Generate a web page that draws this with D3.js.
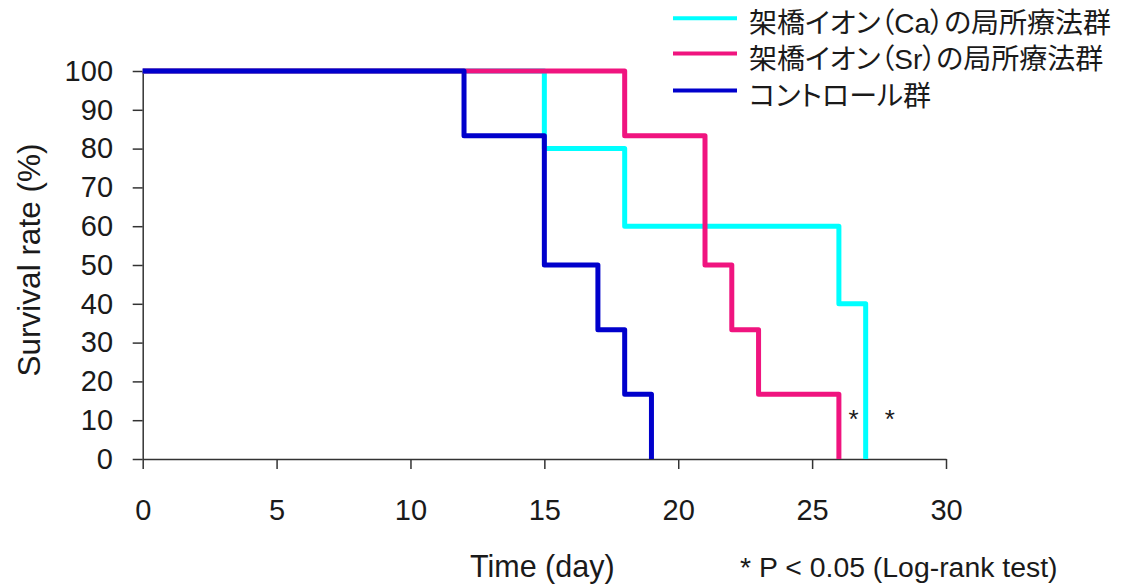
<!DOCTYPE html>
<html>
<head>
<meta charset="utf-8">
<script src="https://cdn.jsdelivr.net/npm/d3@7"></script>
<style>
  html, body { margin: 0; padding: 0; background: #fff; }
  svg { display: block; }
  text { font-family: "Liberation Sans", Arial, "Noto Sans CJK JP", sans-serif; fill: #1a1a1a; }
  .legend-label { font-family: "Liberation Sans", "Noto Sans CJK JP", sans-serif; font-feature-settings: "palt"; }
</style>
</head>
<body>
<svg id="chart" width="1126" height="588"></svg>
<script>
// Kaplan–Meier survival steps: [day, survival %]
const caSteps = [[0, 100], [15, 80], [18, 60], [26, 40], [27, 0]];
const srSteps = [[0, 100], [18, 83.3], [21, 50], [22, 33.3], [23, 16.7], [26, 0]];
const controlSteps = [[0, 100], [12, 83.3], [15, 50], [17, 33.3], [18, 16.7], [19, 0]];

const seriesNames = ["架橋イオン（Ca）の局所療法群", "架橋イオン（Sr）の局所療法群", "コントロール群"];
const seriesColors = ["#00ffff", "#f0147f", "#0000cc"];

const xTicks = [0, 5, 10, 15, 20, 25, 30];
const yTicks = [0, 10, 20, 30, 40, 50, 60, 70, 80, 90, 100];

// significance markers placed beside the two treatment curves
const sigMarks = [[26.55, 8], [27.9, 8]];

const svg = d3.select("#chart");

const x = d3.scaleLinear().domain([0, 30]).range([142.7, 946]);
const y = d3.scaleLinear().domain([0, 100]).range([459, 71]);

// axes
const yAxis = d3.axisLeft(y).tickValues(yTicks).tickSize(10).tickSizeOuter(0).tickPadding(19.7);
const xAxis = d3.axisBottom(x).tickValues(xTicks).tickSize(10).tickSizeOuter(0).tickPadding(30.4);

const gy = svg.append("g").attr("transform", `translate(${x(0)},0)`).call(yAxis);
const gx = svg.append("g").attr("transform", `translate(0,${y(0)})`).call(xAxis);

[gy, gx].forEach(g => {
  g.selectAll("path, line").attr("stroke", "#333").attr("stroke-width", 1.5);
  g.selectAll("text").attr("font-size", 29).attr("fill", "#1a1a1a")
    .style("font-family", '"Liberation Sans", Arial, sans-serif');
});

// survival curves, drawn as step functions
const line = d3.line()
  .x(d => x(d[0]))
  .y(d => y(d[1]))
  .curve(d3.curveStepAfter);

const seriesData = [caSteps, srSteps, controlSteps];
svg.append("g").selectAll("path")
  .data(seriesData)
  .join("path")
  .attr("d", line)
  .attr("fill", "none")
  .attr("stroke", (d, i) => seriesColors[i])
  .attr("stroke-width", 5)
  .attr("stroke-linejoin", "round");

// significance asterisks
svg.append("g").selectAll("text")
  .data(sigMarks)
  .join("text")
  .attr("x", d => x(d[0]))
  .attr("y", d => y(d[1]))
  .attr("text-anchor", "middle")
  .attr("font-size", 26)
  .text("*");

// axis titles
svg.append("text")
  .attr("transform", "translate(40,260) rotate(-90)")
  .attr("text-anchor", "middle")
  .attr("font-size", 31.5)
  .text("Survival rate (%)");

svg.append("text")
  .attr("x", 470)
  .attr("y", 577)
  .attr("font-size", 30.5)
  .text("Time (day)");

svg.append("text")
  .attr("x", 740)
  .attr("y", 577)
  .attr("font-size", 28.4)
  .text("* P < 0.05 (Log-rank test)");

// legend
const legendY = [18.3, 53.5, 90.5];
const legend = svg.append("g").selectAll("g")
  .data(seriesNames)
  .join("g")
  .attr("transform", (d, i) => `translate(0,${legendY[i]})`);

legend.append("line")
  .attr("x1", 673).attr("x2", 737)
  .attr("y1", 0).attr("y2", 0)
  .attr("stroke", (d, i) => seriesColors[i])
  .attr("stroke-width", 4);

legend.append("text")
  .attr("class", "legend-label")
  .attr("x", 749)
  .attr("y", 15)
  .attr("font-size", 28)
  .text(d => d);
</script>
</body>
</html>
